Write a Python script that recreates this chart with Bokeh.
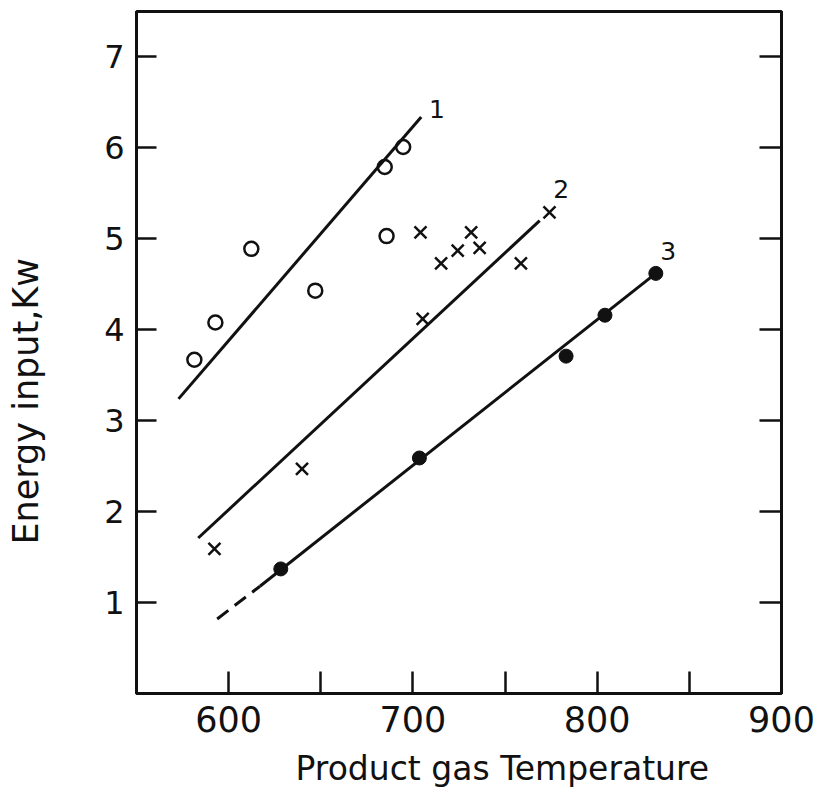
from bokeh.plotting import figure
from bokeh.layouts import row
from bokeh.models import Range1d, LinearAxis, FixedTicker, Title
from bokeh.core.properties import value
from bokeh.embed import file_html
from bokeh.resources import INLINE

# ---- data ----
# Series 1 : open circles
s1_x = [581.4, 592.8, 612.3, 647.0, 685.7, 684.7, 694.7]
s1_y = [3.67, 4.08, 4.89, 4.43, 5.03, 5.79, 6.01]
# Series 2 : crosses
s2_x = [592.3, 639.8, 705.3, 704.1, 715.3, 724.3, 731.6, 736.2, 758.6, 774.1]
s2_y = [1.59, 2.47, 4.12, 5.07, 4.73, 4.87, 5.07, 4.90, 4.73, 5.29]
# Series 3 : filled circles
s3_x = [628.3, 703.5, 783.1, 804.2, 831.8]
s3_y = [1.37, 2.59, 3.71, 4.16, 4.62]

# fitted lines (end points)
line1_x = [572.8, 704.5]
line1_y = [3.24, 6.34]
line2_x = [583.5, 768.8]
line2_y = [1.71, 5.20]
line3_x = [617.0, 831.8]
line3_y = [1.18, 4.62]
line3_ext_x = [593.8, 617.0]
line3_ext_y = [0.82, 1.18]

# line labels
lab_text = ["1", "2", "3"]
lab_x = [713.1, 780.4, 838.5]
lab_y = [6.43, 5.55, 4.87]

x_major_ticks = [600, 700, 800, 900]
x_minor_ticks = [650, 750, 850]
y_ticks = [1, 2, 3, 4, 5, 6, 7]

x_title = "Product gas Temperature"
y_title = "Energy input,Kw"

FONT = "DejaVu Sans"
INK = "#111111"

TOTAL_H = 796
LEFT_W = 60          # strip holding the vertical y-axis title

# ---------- strip with the y-axis title ----------
lt = figure(frame_width=LEFT_W, frame_height=TOTAL_H,
            x_range=Range1d(0, LEFT_W), y_range=Range1d(0, TOTAL_H),
            x_axis_location=None, y_axis_location=None,
            output_backend="svg", toolbar_location=None,
            min_border_left=0, min_border_right=0,
            min_border_top=0, min_border_bottom=0,
            background_fill_color="white", border_fill_color="white")
lt.grid.visible = False
lt.outline_line_color = None
lt.text(x=[5], y=[TOTAL_H - 533], text=[y_title], text_font=value(FONT),
        text_font_size="35px", text_color=INK, angle=90, angle_units="deg",
        text_align="left", text_baseline="top")

# ---------- main chart ----------
p = figure(frame_width=645, frame_height=682,
           x_range=Range1d(550, 900), y_range=Range1d(0, 7.5),
           output_backend="svg", toolbar_location=None,
           min_border_left=136 - LEFT_W, min_border_right=37,
           min_border_top=11, min_border_bottom=103,
           background_fill_color="white", border_fill_color="white")
p.grid.visible = False
p.outline_line_color = INK
p.outline_line_width = 3

xa = p.xaxis[0]
xa.ticker = FixedTicker(ticks=x_major_ticks, minor_ticks=x_minor_ticks)
xa.major_tick_in = 22
xa.major_tick_out = 0
xa.minor_tick_in = 22
xa.minor_tick_out = 0
xa.major_tick_line_width = 2.5
xa.minor_tick_line_width = 2.5
xa.major_tick_line_color = INK
xa.minor_tick_line_color = INK
xa.axis_line_width = 3
xa.axis_line_color = INK
xa.major_label_text_font = FONT
xa.major_label_text_font_size = "35px"
xa.major_label_text_color = INK
xa.major_label_standoff = 12

ya = p.yaxis[0]
ya.ticker = FixedTicker(ticks=y_ticks)
ya.major_tick_in = 20
ya.major_tick_out = 0
ya.minor_tick_line_color = None
ya.major_tick_line_width = 2.5
ya.major_tick_line_color = INK
ya.axis_line_width = 3
ya.axis_line_color = INK
ya.major_label_text_font = FONT
ya.major_label_text_font_size = "32px"
ya.major_label_text_color = INK
ya.major_label_standoff = 12

# right frame side: inward ticks only, no labels
ra = LinearAxis(ticker=FixedTicker(ticks=[], minor_ticks=y_ticks))
ra.major_tick_line_color = None
ra.minor_tick_in = 22
ra.minor_tick_out = 0
ra.minor_tick_line_width = 2.5
ra.minor_tick_line_color = INK
ra.axis_line_width = 3
ra.axis_line_color = INK
ra.major_label_standoff = 0
p.add_layout(ra, "right")

xt = Title(text=x_title, align="left", offset=159,
           text_font=FONT, text_font_size="33px", text_font_style="normal",
           text_color=INK, standoff=24)
p.add_layout(xt, "below")

# fitted lines
p.line(line1_x, line1_y, line_color=INK, line_width=3)
p.line(line2_x, line2_y, line_color=INK, line_width=3)
p.line(line3_x, line3_y, line_color=INK, line_width=3)
p.line(line3_ext_x, line3_ext_y, line_color=INK, line_width=3, line_dash="14 8")

# points
p.scatter(s1_x, s1_y, marker="circle", size=14, fill_color=None,
          line_color=INK, line_width=2.5)
p.scatter(s2_x, s2_y, marker="x", size=17, line_color=INK, line_width=2.5)
p.scatter(s3_x, s3_y, marker="circle", size=14, fill_color=INK,
          line_color=INK, line_width=1)

p.text(lab_x, lab_y, text=lab_text, text_font=value(FONT),
       text_font_size="25px", text_color=INK,
       text_align="center", text_baseline="middle")

layout = row(lt, p, spacing=0)
open("out.html", "w").write(file_html(layout, INLINE))
